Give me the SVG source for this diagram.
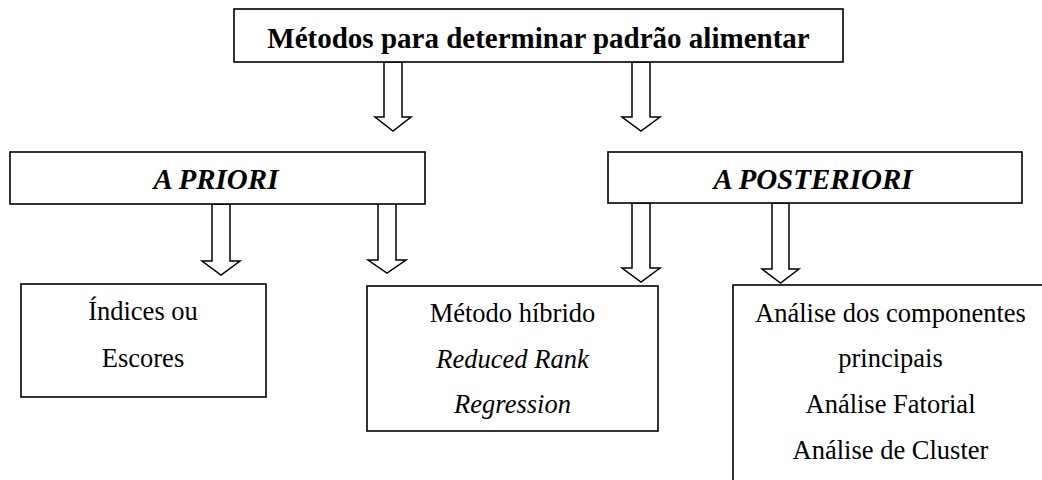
<svg xmlns="http://www.w3.org/2000/svg" width="1042" height="480" viewBox="0 0 1042 480">
<style>
.box{fill:#fff;stroke:#000;stroke-width:1.6}
.arr{fill:#fff;stroke:#000;stroke-width:1.5;stroke-linejoin:miter}
.t{font-family:"Liberation Serif","Times New Roman",serif;fill:#000;text-anchor:middle}
.h{font-size:29px;font-weight:bold}
.hi{font-size:29px;font-weight:bold;font-style:italic}
.b{font-size:26.5px}
.i{font-style:italic}
</style>
<rect width="1042" height="480" fill="#fff"/>
<g id="connectors">
<path class="arr" d="M384,62 L402,62 L402,117 L411,117 L393,131 L375,117 L384,117 Z"/>
<path class="arr" d="M632,62 L650,62 L650,117 L660,117 L641,131 L622,117 L632,117 Z"/>
<path class="arr" d="M212,204 L230,204 L230,261 L240,261 L221,275 L202,261 L212,261 Z"/>
<path class="arr" d="M378,203 L396,203 L396,260 L406,260 L387,273 L368,260 L378,260 Z"/>
<path class="arr" d="M632,203 L650,203 L650,268 L660,268 L641,282 L622,268 L632,268 Z"/>
<path class="arr" d="M772,203 L789,203 L789,269 L799,269 L780.5,283 L762,269 L772,269 Z"/>
</g>
<g id="title">
<rect class="box" x="234" y="9" width="609" height="53"/>
<text class="t h" x="538.5" y="48">Métodos para determinar padrão alimentar</text>
</g>
<g id="apriori">
<rect class="box" x="10" y="152" width="415" height="52"/>
<text class="t hi" x="216" y="189">A PRIORI</text>
</g>
<g id="aposteriori">
<rect class="box" x="608" y="152" width="414" height="51"/>
<text class="t hi" x="813" y="189">A POSTERIORI</text>
</g>
<g id="indices">
<rect class="box" x="21" y="284" width="245" height="113"/>
<text class="t b" x="143" y="320">Índices ou</text>
<text class="t b" x="143" y="367">Escores</text>
</g>
<g id="hibrido">
<rect class="box" x="367" y="286" width="291" height="145"/>
<text class="t b" x="512.5" y="322">Método híbrido</text>
<text class="t b i" x="512.5" y="368">Reduced Rank</text>
<text class="t b i" x="512.5" y="413">Regression</text>
</g>
<g id="analise">
<rect class="box" x="733" y="285" width="330" height="220"/>
<text class="t b" x="890.5" y="322">Análise dos componentes</text>
<text class="t b" x="890.5" y="367">principais</text>
<text class="t b" x="890.5" y="413">Análise Fatorial</text>
<text class="t b" x="890.5" y="459">Análise de Cluster</text>
</g>
</svg>
